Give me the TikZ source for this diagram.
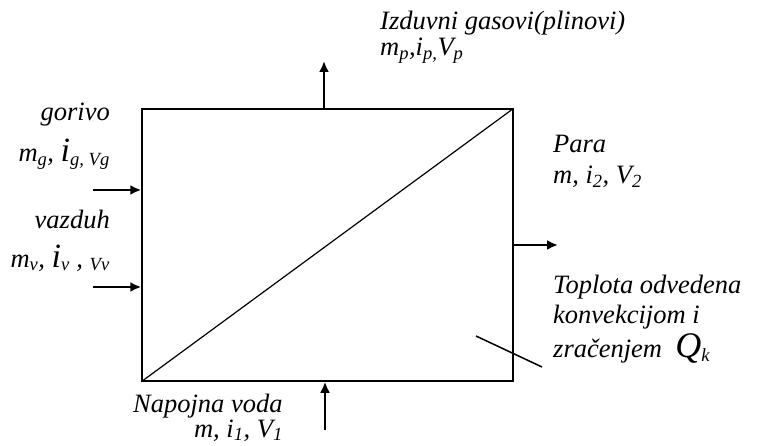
\documentclass[tikz,border=0pt]{standalone}
\usepackage{fontspec}
\setmainfont{Liberation Serif}
\usetikzlibrary{arrows.meta}
\begin{document}
\begin{tikzpicture}[x=1pt,y=-1pt,
    tok/.style={line width=2.4pt,-{Latex[length=11pt,width=10pt]}},
    oznaka/.style={inner sep=0pt,font=\fontsize{26.5}{30}\selectfont\itshape}]
  \def\vi{{\fontsize{34}{30}\selectfont i}}
  \def\vq{{\fontsize{36}{30}\selectfont Q}}
  \useasboundingbox (0,0) rectangle (757,446);
  % kotao
  \node[draw,line width=1.5pt,minimum width=371pt,minimum height=272pt,inner sep=0pt]
    (kotao) at (327.5,245) {};
  \draw[line width=1.2pt] (kotao.south west)--(kotao.north east);
  % tokovi
  \coordinate (gor) at (93,190);
  \coordinate (vaz) at (93,287);
  \coordinate (izd) at (324,61);
  \coordinate (par) at (558,245);
  \coordinate (nap) at (325,430);
  \draw[tok] (gor)--(kotao.west |- gor);
  \draw[tok] (vaz)--(kotao.west |- vaz);
  \draw[tok] (kotao.north -| izd)--(izd);
  \draw[tok] (kotao.east |- par)--(par);
  \draw[tok] (nap)--(kotao.south -| nap);
  % toplota
  \coordinate (q1) at (476,336);
  \coordinate (q2) at (542,367);
  \draw[line width=1.5pt] (q1)--(q2);
  % oznake
  \node[oznaka,anchor=base east] (gorivo) at (110,121) {gorivo};
  \node[oznaka,anchor=base east] (gorivoM) at (110,162)
    {m\textsubscript{g}, \vi\textsubscript{g, Vg}};
  \node[oznaka,anchor=base east] (vazduh) at (110,229) {vazduh};
  \node[oznaka,anchor=base east] (vazduhM) at (110,267)
    {m\textsubscript{v}, \vi\textsubscript{v} , \textsubscript{Vv}};
  \node[oznaka,anchor=base west] (izduvni) at (380,30) {Izduvni gasovi(plinovi)};
  \node[oznaka,anchor=base west] (izduvniM) at (380,56)
    {m\textsubscript{p},i\textsubscript{p,}V\textsubscript{p}};
  \node[oznaka,anchor=base west] (para) at (553,153) {Para};
  \node[oznaka,anchor=base west] (paraM) at (553,184)
    {m, i\textsubscript{2}, V\textsubscript{2}};
  \node[oznaka,anchor=base west] (topl1) at (553,293) {Toplota odvedena};
  \node[oznaka,anchor=base west] (topl2) at (553,323) {konvekcijom i};
  \node[oznaka,anchor=base west] (topl3) at (553,357)
    {zračenjem\ \ \vq\textsubscript{k}};
  \node[oznaka,anchor=base west] (napojna) at (133,412) {Napojna voda};
  \node[oznaka,anchor=base east] (napojnaM) at (283,437)
    {m, i\textsubscript{1}, V\textsubscript{1}};
\end{tikzpicture}
\end{document}
